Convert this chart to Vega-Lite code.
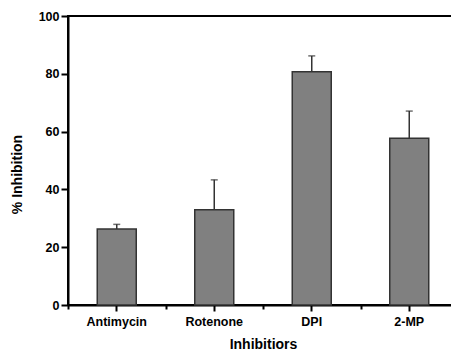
{
  "$schema": "https://vega.github.io/schema/vega-lite/v6.json",
  "autosize": "none",
  "width": 390,
  "height": 289,
  "padding": {"left": 68, "top": 16, "right": 0, "bottom": 47},
  "config": {
    "view": {"stroke": "black", "strokeWidth": 2},
    "axis": {
      "labelFont": "Liberation Sans",
      "titleFont": "Liberation Sans",
      "labelFontWeight": "bold",
      "titleFontWeight": "bold",
      "labelFontSize": 12.5,
      "titleFontSize": 14,
      "labelColor": "black",
      "titleColor": "black",
      "domainColor": "black",
      "domainWidth": 2,
      "tickColor": "black",
      "tickWidth": 2,
      "grid": false
    }
  },
  "data": {
    "values": [
      {"inhibitor": "Antimycin", "inhibition": 26.3, "upper": 27.9},
      {"inhibitor": "Rotenone", "inhibition": 33.0, "upper": 43.3},
      {"inhibitor": "DPI", "inhibition": 80.7, "upper": 86.2},
      {"inhibitor": "2-MP", "inhibition": 57.7, "upper": 67.1}
    ]
  },
  "layer": [
    {
      "mark": {"type": "bar", "color": "#808080", "stroke": "#333333", "strokeWidth": 1.5},
      "encoding": {
        "x": {
          "field": "inhibitor",
          "type": "nominal",
          "sort": null,
          "scale": {"paddingInner": 0.6, "paddingOuter": 0.3},
          "axis": {"title": "Inhibitiors", "labelAngle": 0, "tickSize": 6, "labelPadding": 4, "titlePadding": 10}
        },
        "y": {
          "field": "inhibition",
          "type": "quantitative",
          "scale": {"domain": [0, 100], "nice": false},
          "axis": {
            "title": "% Inhibition",
            "values": [0, 10, 20, 30, 40, 50, 60, 70, 80, 90, 100],
            "labelExpr": "datum.value % 20 === 0 ? datum.label : ''",
            "tickSize": {"condition": {"test": "datum.value % 20 === 0", "value": 7}, "value": 4},
            "labelPadding": 2,
            "titleX": -44,
            "titleY": 158
          }
        }
      }
    },
    {
      "mark": {"type": "rule", "color": "#333333", "strokeWidth": 1.5},
      "encoding": {
        "x": {
          "field": "inhibitor",
          "type": "nominal",
          "sort": null,
          "axis": {"orient": "bottom", "tickOffset": -48.75, "labels": false, "title": null, "domain": false, "tickSize": 4}
        },
        "y": {"field": "inhibition", "type": "quantitative"},
        "y2": {"field": "upper"}
      }
    },
    {
      "mark": {"type": "tick", "color": "#333333", "thickness": 1.5, "size": 7},
      "encoding": {
        "x": {"field": "inhibitor", "type": "nominal", "sort": null, "axis": null},
        "y": {"field": "upper", "type": "quantitative"}
      }
    }
  ],
  "resolve": {"axis": {"x": "independent"}}
}
